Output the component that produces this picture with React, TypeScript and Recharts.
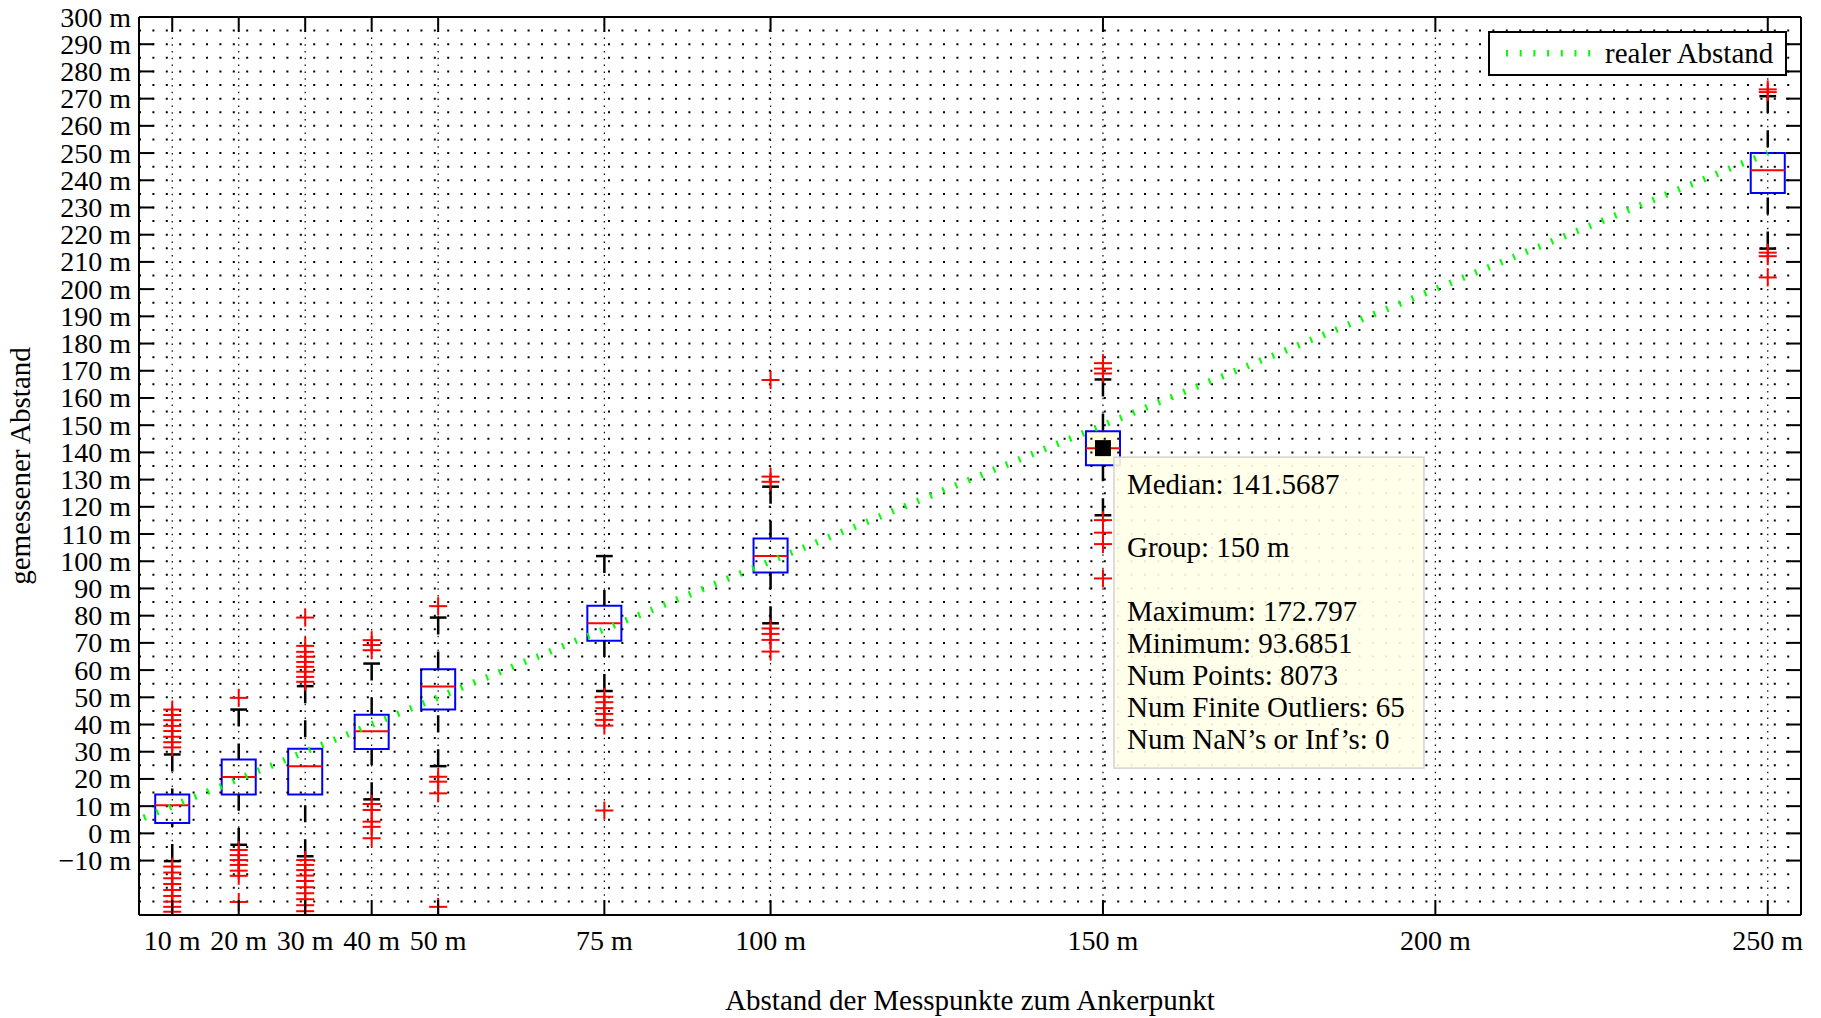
import React from 'react';
import {
  ComposedChart,
  XAxis,
  YAxis,
  CartesianGrid,
  Line,
  Scatter,
  ReferenceLine,
  ReferenceArea,
  ReferenceDot,
  Legend,
} from 'recharts';

const FONT = '"Liberation Serif", "Times New Roman", Times, serif';
const W = 1821;
const H = 1018;

// ---- data ---------------------------------------------------------------
const groups = [10, 20, 30, 40, 50, 75, 100, 150, 250];
const q1 = [3.8, 14.3, 14.3, 31.0, 45.5, 70.8, 95.9, 135.3, 235.3];
const medians = [10.3, 20.7, 24.7, 37.5, 54.0, 77.2, 101.9, 141.5687, 243.7];
const q3 = [14.3, 27.1, 31.1, 43.6, 60.3, 83.6, 108.4, 147.8, 250.0];
const whiskerLow = [-10.2, -4.2, -8.4, 12.5, 24.7, 52.3, 77.2, 116.9, 214.9];
const whiskerHigh = [29.0, 45.5, 54.1, 62.4, 79.3, 101.9, 127.4, 166.8, 270.9];

const outliers10 = [31.6, 33.5, 35.5, 37.6, 39.5, 41.6, 43.5, 45.5, -12.2, -14.4, -16.5, -18.6, -20.8, -23.0, -25.1, -27.0, -28.8];
const outliers20 = [49.8, -6.1, -8.0, -9.8, -11.6, -13.7, -15.6, -25.2];
const outliers30 = [55.7, 57.5, 59.4, 61.2, 63.0, 64.9, 66.7, 68.9, 79.3, -9.8, -11.6, -13.5, -15.5, -17.5, -19.8, -22.0, -24.2, -26.4, -28.6];
const outliers40 = [67.3, 69.2, 71.0, 10.8, 8.6, 4.3, 2.4, -1.8];
const outliers50 = [83.5, 20.8, 19.0, 14.7, -27.0];
const outliers75 = [50.2, 48.2, 46.0, 43.9, 41.7, 39.6, 8.4];
const outliers100 = [129.2, 131.1, 166.6, 75.3, 73.3, 71.1, 66.8];
const outliers150 = [169.0, 170.8, 172.797, 115.1, 110.5, 106.3, 93.6851];
const outliers250 = [272.4, 273.4, 213.4, 212.1, 204.3];
const outliers = [outliers10, outliers20, outliers30, outliers40, outliers50, outliers75, outliers100, outliers150, outliers250];

const realDistance = [0, 10, 20, 30, 40, 50, 75, 100, 150, 200, 250];

const xTicks = [10, 20, 30, 40, 50, 75, 100, 150, 200, 250];
const yTicks = [-10, 0, 10, 20, 30, 40, 50, 60, 70, 80, 90, 100, 110, 120, 130, 140, 150, 160, 170, 180, 190, 200, 210, 220, 230, 240, 250, 260, 270, 280, 290, 300];
const gridRows = Array.from({ length: 65 }, (_, i) => -25 + i * 5);

// data tip shown on the 150 m group
const tipGroup = 150;
const tipNumPoints = 8073;
const tipFiniteOutliers = 65;
const tipNaNs = 0;

// ---- derived ------------------------------------------------------------
const X_DOMAIN: [number, number] = [5, 255];
const Y_DOMAIN: [number, number] = [-30, 300];
const BOX_HALF = 2.56;
const CAP_HALF = 1.26;

const outlierPoints = groups.flatMap((g, i) => outliers[i].map((v) => ({ x: g, y: v })));
const lineData = realDistance.map((d) => ({ x: d, y: d }));
const tipIdx = groups.indexOf(tipGroup);
const tipLines = [
  `Median: ${medians[tipIdx]}`,
  '',
  `Group: ${tipGroup} m`,
  '',
  `Maximum: ${Math.max(...outliers[tipIdx], whiskerHigh[tipIdx])}`,
  `Minimum: ${Math.min(...outliers[tipIdx], whiskerLow[tipIdx])}`,
  `Num Points: ${tipNumPoints}`,
  `Num Finite Outliers: ${tipFiniteOutliers}`,
  `Num NaN\u2019s or Inf\u2019s: ${tipNaNs}`,
];

const yLabel = (v: number) => (v < 0 ? `\u2212${Math.abs(v)} m` : `${v} m`);

// ---- tick renderers -------------------------------------------------------
const LeftTick = (p: any) => (
  <g>
    <line x1={p.x} x2={p.x + 15} y1={p.y} y2={p.y} stroke="#000" strokeWidth={2} />
    <text x={p.x - 8} y={p.y + 9.5} textAnchor="end" fontSize={28} fontFamily={FONT} fill="#000">
      {yLabel(p.payload.value)}
    </text>
  </g>
);
const RightTick = (p: any) => (
  <line x1={p.x - 15} x2={p.x} y1={p.y} y2={p.y} stroke="#000" strokeWidth={2} />
);
const BottomTick = (p: any) => (
  <g>
    <line x1={p.x} x2={p.x} y1={p.y} y2={p.y - 15} stroke="#000" strokeWidth={2} />
    <text x={p.x} y={p.y + 34.5} textAnchor="middle" fontSize={28} fontFamily={FONT} fill="#000">
      {`${p.payload.value} m`}
    </text>
  </g>
);
const TopTick = (p: any) => (
  <line x1={p.x} x2={p.x} y1={p.y} y2={p.y + 15} stroke="#000" strokeWidth={2} />
);

const XTitle = (props: any) => {
  const vb = props && props.viewBox && props.viewBox.width ? props.viewBox : { x: 139, y: 915, width: 1662, height: 103 };
  return (
    <text x={vb.x + vb.width / 2} y={vb.y + vb.height - 8} textAnchor="middle" fontSize={29} fontFamily={FONT} fill="#000">
      Abstand der Messpunkte zum Ankerpunkt
    </text>
  );
};
const YTitle = (props: any) => {
  const vb = props && props.viewBox && props.viewBox.height ? props.viewBox : { x: 0, y: 17, width: 139, height: 898 };
  const cx = vb.x + 29.5;
  const cy = vb.y + vb.height / 2;
  return (
    <text x={cx} y={cy} transform={`rotate(-90, ${cx}, ${cy})`} textAnchor="middle" fontSize={29} fontFamily={FONT} fill="#000">
      gemessener Abstand
    </text>
  );
};

const PlusShape = (p: any) => {
  const { cx, cy } = p;
  if (cx == null || cy == null) return null;
  return (
    <g>
      <line x1={cx - 9} x2={cx + 9} y1={cy} y2={cy} stroke="#FF0000" strokeWidth={2} />
      <line x1={cx} x2={cx} y1={cy - 9} y2={cy + 9} stroke="#FF0000" strokeWidth={2} />
    </g>
  );
};

const DataTip = (p: any) => {
  const { cx, cy } = p;
  if (cx == null || cy == null) return null;
  const left = cx + 11;
  const top = cy + 9;
  return (
    <g>
      <rect x={cx - 8} y={cy - 8} width={16} height={16} fill="#000" />
      <rect x={left} y={top} width={310} height={311} fill="#FFFFE8" fillOpacity={0.9} stroke="#D9CFCF" strokeWidth={1.5} />
      {tipLines.map((t, i) =>
        t ? (
          <text key={i} x={left + 13} y={top + 36.5 + i * 31.9} fontSize={29} fontFamily={FONT} fill="#000">
            {t}
          </text>
        ) : null,
      )}
    </g>
  );
};

const LegendBox = () => (
  <div
    style={{
      boxSizing: 'border-box',
      width: 299,
      height: 45,
      border: '2px solid #000',
      background: '#fff',
    }}
  >
    <svg width={295} height={41} style={{ display: 'block' }}>
      <line x1={16} x2={100.2} y1={20.3} y2={20.3} stroke="#00FF00" strokeWidth={6.5} strokeDasharray="2 11.7" />
      <text x={115} y={30.3} fontSize={29} fontFamily={FONT} fill="#000">
        realer Abstand
      </text>
    </svg>
  </div>
);

export default function App() {
  return (
    <div style={{ position: 'absolute', left: 0, top: 0, width: W, height: H, background: '#fff' }}>
      <ComposedChart width={W} height={H} margin={{ top: 0, right: 0, bottom: 0, left: 0 }}>
        <CartesianGrid horizontal={false} vertical stroke="#000" strokeWidth={1.2} strokeDasharray="1.5 5.3" />
        {gridRows.map((v) => (
          <ReferenceLine key={`row${v}`} y={v} stroke="#000" strokeWidth={2} strokeDasharray="2 11.4" />
        ))}

        <XAxis
          dataKey="x"
          type="number"
          domain={X_DOMAIN}
          allowDataOverflow
          ticks={xTicks}
          interval={0}
          height={103}
          tickSize={0}
          tickMargin={0}
          tickLine={false}
          axisLine={{ stroke: '#000', strokeWidth: 2 }}
          tick={BottomTick}
          label={XTitle}
        />
        <XAxis
          xAxisId="top"
          orientation="top"
          dataKey="x"
          type="number"
          domain={X_DOMAIN}
          allowDataOverflow
          ticks={xTicks}
          interval={0}
          height={17}
          tickSize={0}
          tickMargin={0}
          tickLine={false}
          axisLine={{ stroke: '#000', strokeWidth: 2 }}
          tick={TopTick}
        />
        <YAxis
          type="number"
          domain={Y_DOMAIN}
          allowDataOverflow
          ticks={yTicks}
          interval={0}
          width={139}
          tickSize={0}
          tickMargin={0}
          tickLine={false}
          axisLine={{ stroke: '#000', strokeWidth: 2 }}
          tick={LeftTick}
          label={YTitle}
        />
        <YAxis
          yAxisId="right"
          orientation="right"
          type="number"
          domain={Y_DOMAIN}
          allowDataOverflow
          ticks={yTicks}
          interval={0}
          width={20}
          tickSize={0}
          tickMargin={0}
          tickLine={false}
          axisLine={{ stroke: '#000', strokeWidth: 2 }}
          tick={RightTick}
        />

        {groups.map((g, i) => (
          <ReferenceLine
            key={`wu${g}`}
            segment={[{ x: g, y: whiskerHigh[i] }, { x: g, y: q3[i] }]}
            stroke="#000"
            strokeWidth={2.5}
            strokeDasharray="17 17"
          />
        ))}
        {groups.map((g, i) => (
          <ReferenceLine
            key={`wl${g}`}
            segment={[{ x: g, y: whiskerLow[i] }, { x: g, y: q1[i] }]}
            stroke="#000"
            strokeWidth={2.5}
            strokeDasharray="17 17"
          />
        ))}
        {groups.map((g, i) => (
          <ReferenceLine
            key={`cu${g}`}
            segment={[{ x: g - CAP_HALF, y: whiskerHigh[i] }, { x: g + CAP_HALF, y: whiskerHigh[i] }]}
            stroke="#000"
            strokeWidth={2.5}
          />
        ))}
        {groups.map((g, i) => (
          <ReferenceLine
            key={`cl${g}`}
            segment={[{ x: g - CAP_HALF, y: whiskerLow[i] }, { x: g + CAP_HALF, y: whiskerLow[i] }]}
            stroke="#000"
            strokeWidth={2.5}
          />
        ))}
        {groups.map((g, i) => (
          <ReferenceLine
            key={`md${g}`}
            segment={[{ x: g - BOX_HALF, y: medians[i] }, { x: g + BOX_HALF, y: medians[i] }]}
            stroke="#FF0000"
            strokeWidth={2}
          />
        ))}
        {groups.map((g, i) => (
          <ReferenceArea
            key={`bx${g}`}
            x1={g - BOX_HALF}
            x2={g + BOX_HALF}
            y1={q1[i]}
            y2={q3[i]}
            stroke="#0000FF"
            strokeWidth={2}
            fill={g === tipGroup ? '#FFFFE0' : 'none'}
            fillOpacity={g === tipGroup ? 0.88 : 0}
          />
        ))}

        <Scatter
          data={outlierPoints}
          dataKey="y"
          shape={PlusShape}
          isAnimationActive={false}
          legendType="none"
        />
        <Line
          data={lineData}
          dataKey="y"
          type="linear"
          stroke="#00FF00"
          strokeWidth={6.5}
          strokeDasharray="2 11.7"
          dot={false}
          activeDot={false}
          isAnimationActive={false}
          name="realer Abstand"
        />

        <ReferenceDot x={tipGroup} y={medians[tipIdx]} shape={DataTip} />

        <Legend
          layout="horizontal"
          verticalAlign="middle"
          align="center"
          wrapperStyle={{ left: 1488, top: 31, width: 299, height: 45 }}
          content={() => <LegendBox />}
        />
      </ComposedChart>
    </div>
  );
}
